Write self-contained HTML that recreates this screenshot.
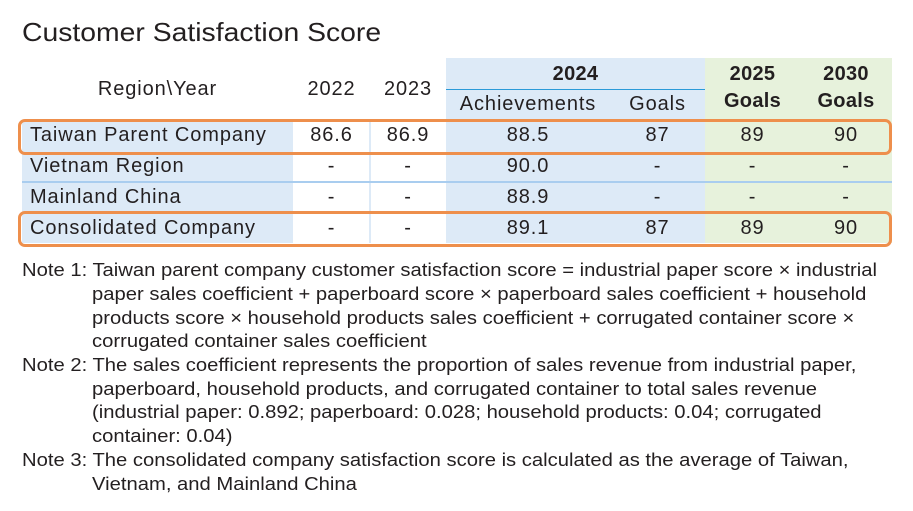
<!DOCTYPE html>
<html><head><meta charset="utf-8"><style>
body{margin:0;width:913px;height:511px;background:#fff;font-family:"Liberation Sans",Arial,sans-serif;color:#231f20;position:relative;overflow:hidden}
.a{position:absolute;white-space:nowrap}
.t{font-size:26px;left:22px;top:17px;transform:scaleX(1.09);transform-origin:left}
.c{position:absolute;text-align:center;font-size:20px;line-height:31px;height:31px;letter-spacing:0.9px;white-space:nowrap}
.n{position:absolute;font-size:18.5px;white-space:nowrap;line-height:20px;transform:scaleX(1.093);transform-origin:left}
.b{font-weight:bold;letter-spacing:0.3px}
</style></head><body>
<div class="a t">Customer Satisfaction Score</div>
<div class="a" style="left:446px;top:58px;width:259px;height:185px;background:#ddeaf7"></div>
<div class="a" style="left:705px;top:58px;width:187px;height:185px;background:#e7f2dc"></div>
<div class="a" style="left:22px;top:120px;width:271px;height:123px;background:#ddeaf7"></div>
<div class="a" style="left:369px;top:120px;width:2px;height:123px;background:#ddeaf7"></div>
<div class="a" style="left:446px;top:89px;width:259px;height:1px;background:#2a9ad8"></div>
<div class="a" style="left:22px;top:181px;width:870px;height:2px;background:#a9cdef"></div>
<div class="c" style="left:22px;top:74px;width:271px">Region\Year</div>
<div class="c" style="left:293px;top:74px;width:77px">2022</div>
<div class="c" style="left:370px;top:74px;width:76px">2023</div>
<div class="c b" style="left:446px;top:59px;width:259px">2024</div>
<div class="c" style="left:446px;top:89px;width:164px">Achievements</div>
<div class="c" style="left:610px;top:89px;width:95px">Goals</div>
<div class="c b" style="left:705px;top:61px;width:95px;line-height:27px;height:60px">2025<br>Goals</div>
<div class="c b" style="left:800px;top:61px;width:92px;line-height:27px;height:60px">2030<br>Goals</div>
<div class="c" style="left:30px;top:120px;text-align:left">Taiwan Parent Company</div>
<div class="c" style="left:30px;top:151px;text-align:left">Vietnam Region</div>
<div class="c" style="left:30px;top:182px;text-align:left">Mainland China</div>
<div class="c" style="left:30px;top:213px;text-align:left">Consolidated Company</div>

<div class="c" style="left:293px;top:120px;width:77px">86.6</div>
<div class="c" style="left:370px;top:120px;width:76px">86.9</div>
<div class="c" style="left:446px;top:120px;width:164px">88.5</div>
<div class="c" style="left:610px;top:120px;width:95px">87</div>
<div class="c" style="left:705px;top:120px;width:95px">89</div>
<div class="c" style="left:800px;top:120px;width:92px">90</div>

<div class="c" style="left:293px;top:151px;width:77px">-</div>
<div class="c" style="left:370px;top:151px;width:76px">-</div>
<div class="c" style="left:446px;top:151px;width:164px">90.0</div>
<div class="c" style="left:610px;top:151px;width:95px">-</div>
<div class="c" style="left:705px;top:151px;width:95px">-</div>
<div class="c" style="left:800px;top:151px;width:92px">-</div>

<div class="c" style="left:293px;top:182px;width:77px">-</div>
<div class="c" style="left:370px;top:182px;width:76px">-</div>
<div class="c" style="left:446px;top:182px;width:164px">88.9</div>
<div class="c" style="left:610px;top:182px;width:95px">-</div>
<div class="c" style="left:705px;top:182px;width:95px">-</div>
<div class="c" style="left:800px;top:182px;width:92px">-</div>

<div class="c" style="left:293px;top:213px;width:77px">-</div>
<div class="c" style="left:370px;top:213px;width:76px">-</div>
<div class="c" style="left:446px;top:213px;width:164px">89.1</div>
<div class="c" style="left:610px;top:213px;width:95px">87</div>
<div class="c" style="left:705px;top:213px;width:95px">89</div>
<div class="c" style="left:800px;top:213px;width:92px">90</div>
<div class="a" style="left:18px;top:119px;width:868px;height:30px;border:3px solid #ee8f4c;border-radius:7px"></div>
<div class="a" style="left:18px;top:211px;width:868px;height:30px;border:3px solid #ee8f4c;border-radius:7px"></div>
<div class="n" style="left:22px;top:260px">Note 1: Taiwan parent company customer satisfaction score = industrial paper score × industrial</div>
<div class="n" style="left:92px;top:284px">paper sales coefficient + paperboard score × paperboard sales coefficient + household</div>
<div class="n" style="left:92px;top:308px">products score × household products sales coefficient + corrugated container score ×</div>
<div class="n" style="left:92px;top:331px">corrugated container sales coefficient</div>
<div class="n" style="left:22px;top:355px">Note 2: The sales coefficient represents the proportion of sales revenue from industrial paper,</div>
<div class="n" style="left:92px;top:379px">paperboard, household products, and corrugated container to total sales revenue</div>
<div class="n" style="left:92px;top:402px">(industrial paper: 0.892; paperboard: 0.028; household products: 0.04; corrugated</div>
<div class="n" style="left:92px;top:426px">container: 0.04)</div>
<div class="n" style="left:22px;top:450px">Note 3: The consolidated company satisfaction score is calculated as the average of Taiwan,</div>
<div class="n" style="left:92px;top:474px">Vietnam, and Mainland China</div>
</body></html>
